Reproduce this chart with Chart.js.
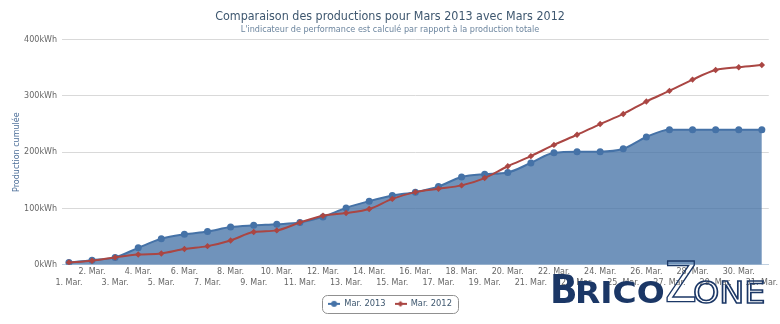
<!DOCTYPE html>
<html>
<head>
<meta charset="utf-8">
<script src="https://cdn.jsdelivr.net/npm/chart.js@4/dist/chart.umd.min.js"></script>
<style>
  body { margin: 0; background: #fff; }
  #wrap { position: relative; width: 780px; height: 324px; }
  .logo {
    position: absolute; white-space: nowrap; line-height: 1; transform-origin: 0 0;
    font-family: "DejaVu Sans Condensed", "DejaVu Sans", sans-serif; font-weight: bold;
    color: #1b3766;
  }
  .logo.out { color: transparent; -webkit-text-stroke: 1.4px #1b3766; font-weight: normal; }
</style>
</head>
<body>
<div id="wrap">
  <canvas id="chart"></canvas>
  <!-- filigrane du site -->
  <span class="logo" style="left:550px; top:270px; font-size:39px; transform:scaleX(1.03)">B</span>
  <span class="logo" style="left:575px; top:278px; font-size:30px; transform:scaleX(1.22)">RICO</span>
  <span class="logo out" style="left:665px; top:255px; font-size:55px; transform:scaleX(0.94)">Z</span>
  <span class="logo out" style="left:693px; top:277px; font-size:31px; transform:scaleX(1.2)">ONE</span>
</div>
<script>
// --- données (kWh cumulés) ---
const days = [1, 2, 3, 4, 5, 6, 7, 8, 9, 10, 11, 12, 13, 14, 15, 16, 17, 18, 19, 20, 21, 22, 23, 24, 25, 26, 27, 28, 29, 30, 31];
const prod2013 = [4000, 8000, 13000, 30000, 46000, 54000, 59000, 67000, 70000, 72000, 75000, 85000, 101000, 113000, 123000, 129000,
                  139000, 156000, 161000, 164000, 181000, 199000, 201000, 201000, 206000, 227000, 240000, 240000, 240000, 240000, 240000];
const prod2012 = [4000, 7000, 13000, 18000, 20000, 28000, 33000, 43000, 58000, 61000, 75000, 87000, 92000, 99000, 117000, 129000,
                  135000, 141000, 154000, 175000, 193000, 213000, 231000, 250000, 268000, 290000, 309000, 329000, 346000, 351000, 355000];
const yTicks = [0, 100000, 200000, 300000, 400000];
const seriesNames = ['Mar. 2013', 'Mar. 2012'];

const FONT = '"DejaVu Sans", sans-serif';
const FONT_COND = '"DejaVu Sans Condensed", "DejaVu Sans", sans-serif';
const BLUE = '#4572A7';
const RED = '#AA4643';

// petite icône "ligne + marqueur" pour la légende
function legendIcon(color, diamond) {
    const c = document.createElement('canvas');
    c.width = 12; c.height = 8;
    const g = c.getContext('2d');
    g.strokeStyle = color; g.lineWidth = 2;
    g.beginPath(); g.moveTo(0, 4); g.lineTo(12, 4); g.stroke();
    g.fillStyle = color;
    g.beginPath();
    if (diamond) {
        g.moveTo(6, 1); g.lineTo(9, 4); g.lineTo(6, 7); g.lineTo(3, 4);
    } else {
        g.arc(6, 4, 3, 0, Math.PI * 2);
    }
    g.fill();
    return c;
}
const icons = [legendIcon(BLUE, false), legendIcon(RED, true)];

// cadre arrondi autour de la légende
const legendBox = {
    id: 'legendBox',
    afterDraw(chart) {
        const boxes = chart.legend.legendHitBoxes;
        if (!boxes || !boxes.length) return;
        const l = Math.min(...boxes.map(b => b.left)) - 6;
        const r = Math.max(...boxes.map(b => b.left + b.width)) + 6;
        const t = Math.min(...boxes.map(b => b.top)) - 5;
        const btm = Math.max(...boxes.map(b => b.top + b.height)) + 5;
        const ctx = chart.ctx;
        ctx.save();
        ctx.strokeStyle = '#909090';
        ctx.lineWidth = 1;
        ctx.beginPath();
        ctx.roundRect(Math.round(l) + 0.5, Math.round(t) + 0.5, Math.round(r - l), Math.round(btm - t), 5);
        ctx.stroke();
        ctx.restore();
    }
};

new Chart(document.getElementById('chart'), {
    type: 'line',
    data: {
        datasets: [{
            label: seriesNames[0],
            data: days.map((d, i) => ({ x: d, y: prod2013[i] })),
            borderColor: BLUE,
            backgroundColor: 'rgba(69, 114, 167, 0.77)',
            fill: 'origin',
            borderWidth: 2,
            pointRadius: 3.5,
            pointBackgroundColor: BLUE,
            pointBorderColor: BLUE,
            pointBorderWidth: 0,
            cubicInterpolationMode: 'monotone',
            order: 2
        }, {
            label: seriesNames[1],
            data: days.map((d, i) => ({ x: d, y: prod2012[i] })),
            borderColor: RED,
            backgroundColor: RED,
            fill: false,
            borderWidth: 2,
            pointStyle: 'rectRot',
            pointRadius: 3.2,
            pointBackgroundColor: RED,
            pointBorderColor: RED,
            pointBorderWidth: 0,
            cubicInterpolationMode: 'monotone',
            order: 1
        }]
    },
    options: {
        responsive: true,
        maintainAspectRatio: false,
        animation: false,
        layout: { padding: { left: 8, right: 8, top: 0, bottom: 6 } },
        scales: {
            x: {
                type: 'linear',
                min: 0.7,
                max: 31.3,
                afterBuildTicks: (s) => { s.ticks = days.map(d => ({ value: d })); },
                afterFit: (s) => { s.height = 26; },
                ticks: {
                    autoSkip: false,
                    maxRotation: 0,
                    padding: 2,
                    color: '#666',
                    font: { family: FONT, size: 8, lineHeight: 1.35 },
                    // jours pairs sur la 1re ligne, impairs sur la 2e
                    callback: (v, i) => (days[i] % 2 === 0) ? [days[i] + '. Mar.'] : ['', days[i] + '. Mar.']
                },
                grid: { display: false, drawTicks: false },
                border: { display: true, color: '#C0D0E0', width: 1 }
            },
            y: {
                min: 0,
                max: 400000,
                afterBuildTicks: (s) => { s.ticks = yTicks.map(v => ({ value: v })); },
                afterFit: (s) => { s.width = 54; },
                ticks: {
                    padding: 5,
                    color: '#666',
                    font: { family: FONT, size: 8 },
                    callback: (v) => (v / 1000) + 'kWh'
                },
                grid: { color: '#d9d9d9', drawTicks: false },
                border: { display: false },
                title: {
                    display: true,
                    text: 'Production cumulée',
                    color: '#4d6f99',
                    font: { family: FONT, size: 8 },
                    padding: { top: 4, bottom: 0 }
                }
            }
        },
        plugins: {
            title: {
                display: true,
                text: 'Comparaison des productions pour Mars 2013 avec Mars 2012',
                color: '#3E576F',
                font: { family: FONT_COND, size: 12.4, weight: 'normal' },
                padding: { top: 9, bottom: 0 }
            },
            subtitle: {
                display: true,
                text: "L'indicateur de performance est calculé par rapport à la production totale",
                color: '#6D869F',
                font: { family: FONT_COND, size: 9 },
                padding: { top: 0, bottom: 5 }
            },
            legend: {
                position: 'bottom',
                labels: {
                    usePointStyle: true,
                    pointStyleWidth: 12,
                    boxHeight: 8,
                    padding: 9,
                    color: '#3E576F',
                    font: { family: FONT, size: 8.3 },
                    generateLabels: (chart) => chart.data.datasets.map((ds, i) => ({
                        text: ds.label,
                        fillStyle: ds.borderColor,
                        strokeStyle: ds.borderColor,
                        lineWidth: 0,
                        pointStyle: icons[i],
                        fontColor: '#3E576F',
                        hidden: false,
                        datasetIndex: i
                    }))
                }
            },
            tooltip: { enabled: false }
        }
    },
    plugins: [legendBox]
});
</script>
</body>
</html>
